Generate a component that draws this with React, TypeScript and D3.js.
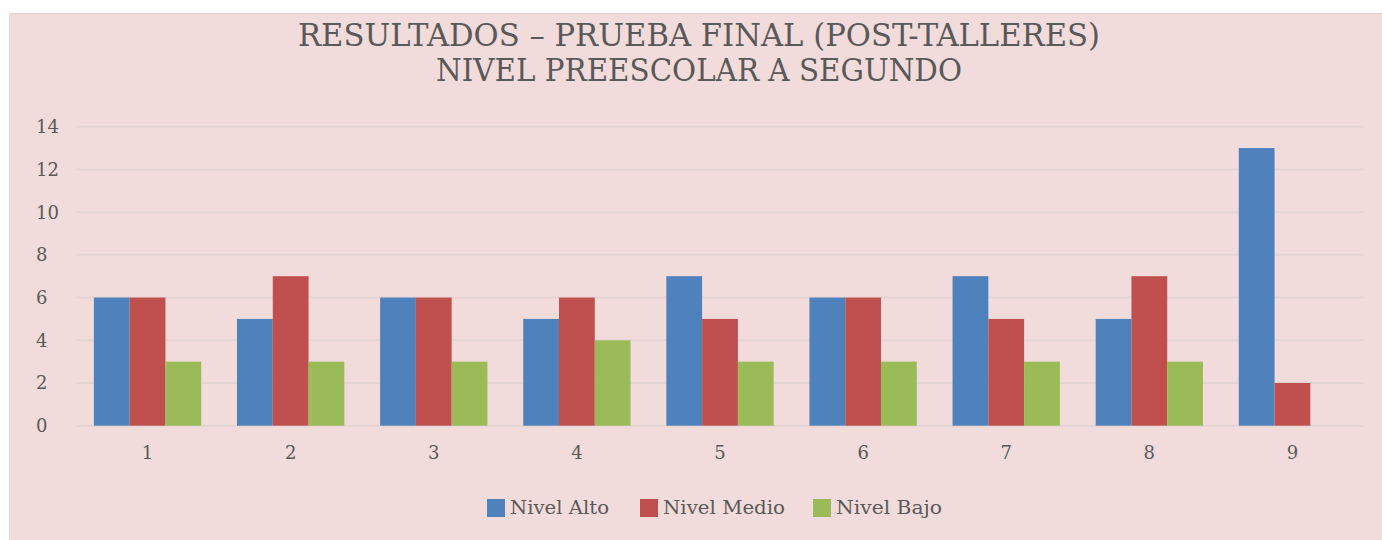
import React, { useEffect, useRef } from 'react';
import * as d3 from 'd3';

// Chart data
const categories = ['1', '2', '3', '4', '5', '6', '7', '8', '9'];
const seriesNames = ['Nivel Alto', 'Nivel Medio', 'Nivel Bajo'];
const nivelAlto = [6, 5, 6, 5, 7, 6, 7, 5, 13];
const nivelMedio = [6, 7, 6, 6, 5, 6, 5, 7, 2];
const nivelBajo = [3, 3, 3, 4, 3, 3, 3, 3, 0];
const yTicks = [0, 2, 4, 6, 8, 10, 12, 14];
const titleLines = ['RESULTADOS – PRUEBA FINAL (POST-TALLERES)', 'NIVEL PREESCOLAR A SEGUNDO'];

const colors = ['#4f81bd', '#c0504d', '#9bbb59'];

const App = () => {
    const svgRef = useRef<SVGSVGElement>(null);

    useEffect(() => {
        if (!svgRef.current) return;
        const width = 1382;
        const height = 540;
        const font = '"DejaVu Serif", serif';
        const textColor = '#595959';
        const gridColor = '#e4d4d4';

        const svg = d3.select(svgRef.current);
        svg.selectAll('*').remove();

        // Chart background
        svg.append('rect')
            .attr('x', 9.5)
            .attr('y', 13.5)
            .attr('width', width)
            .attr('height', height)
            .attr('fill', '#f2dcdb')
            .attr('stroke', '#e3d3d3')
            .attr('stroke-width', 1);

        // Title
        const titleLengths = [802, 526];
        const titleBaselines = [46, 81];
        titleLines.forEach((line, i) => {
            svg.append('text')
                .attr('x', 699)
                .attr('y', titleBaselines[i])
                .attr('text-anchor', 'middle')
                .attr('font-family', font)
                .attr('font-size', 31)
                .attr('fill', textColor)
                .attr('textLength', titleLengths[i])
                .attr('lengthAdjust', 'spacingAndGlyphs')
                .text(line);
        });

        // Scales
        const x = d3.scaleBand()
            .domain(categories)
            .range([76, 1364])
            .paddingInner(0.25)
            .paddingOuter(0.125);

        const xSub = d3.scaleBand()
            .domain(seriesNames)
            .range([0, x.bandwidth()])
            .padding(0);

        const y = d3.scaleLinear()
            .domain([0, 14])
            .range([425.7, 126.7]);

        // Gridlines
        svg.append('g')
            .selectAll('line')
            .data(yTicks)
            .enter()
            .append('line')
            .attr('x1', 76)
            .attr('x2', 1364)
            .attr('y1', d => y(d))
            .attr('y2', d => y(d))
            .attr('stroke', gridColor)
            .attr('stroke-width', 2);

        // Y tick labels (left aligned like the original)
        svg.append('g')
            .selectAll('text')
            .data(yTicks)
            .enter()
            .append('text')
            .attr('x', 36)
            .attr('y', d => y(d))
            .attr('dy', '0.36em')
            .attr('font-family', font)
            .attr('font-size', 18)
            .attr('fill', textColor)
            .text(d => d);

        // Bars
        const rows = categories.map((c, i) => ({
            category: c,
            values: [nivelAlto[i], nivelMedio[i], nivelBajo[i]]
        }));

        const groups = svg.append('g')
            .selectAll('g')
            .data(rows)
            .enter()
            .append('g')
            .attr('transform', d => `translate(${x(d.category)},0)`);

        groups.selectAll('rect')
            .data(d => d.values.map((v, k) => ({ name: seriesNames[k], value: v, k })))
            .enter()
            .append('rect')
            .attr('x', d => xSub(d.name) as number)
            .attr('width', xSub.bandwidth())
            .attr('y', d => y(d.value))
            .attr('height', d => y(0) - y(d.value))
            .attr('fill', d => colors[d.k]);

        // X labels
        svg.append('g')
            .selectAll('text')
            .data(categories)
            .enter()
            .append('text')
            .attr('x', d => (x(d) as number) + x.bandwidth() / 2)
            .attr('y', 459)
            .attr('text-anchor', 'middle')
            .attr('font-family', font)
            .attr('font-size', 18)
            .attr('fill', textColor)
            .text(d => d);

        // Legend
        const legendX = [487, 640, 813];
        const legendLengths = [99, 122, 106];
        const legend = svg.append('g')
            .selectAll('g')
            .data(seriesNames)
            .enter()
            .append('g')
            .attr('transform', (d, i) => `translate(${legendX[i]},499)`);

        legend.append('rect')
            .attr('width', 18)
            .attr('height', 18)
            .attr('fill', (d, i) => colors[i]);

        legend.append('text')
            .attr('x', 23)
            .attr('y', 15)
            .attr('font-family', font)
            .attr('font-size', 19)
            .attr('fill', textColor)
            .attr('textLength', (d, i) => legendLengths[i])
            .attr('lengthAdjust', 'spacingAndGlyphs')
            .text(d => d);
    }, []);

    return (
        <svg
            ref={svgRef}
            width={1382}
            height={540}
            style={{ position: 'absolute', left: 0, top: 0, background: '#ffffff' }}
        />
    );
};

export default App;
